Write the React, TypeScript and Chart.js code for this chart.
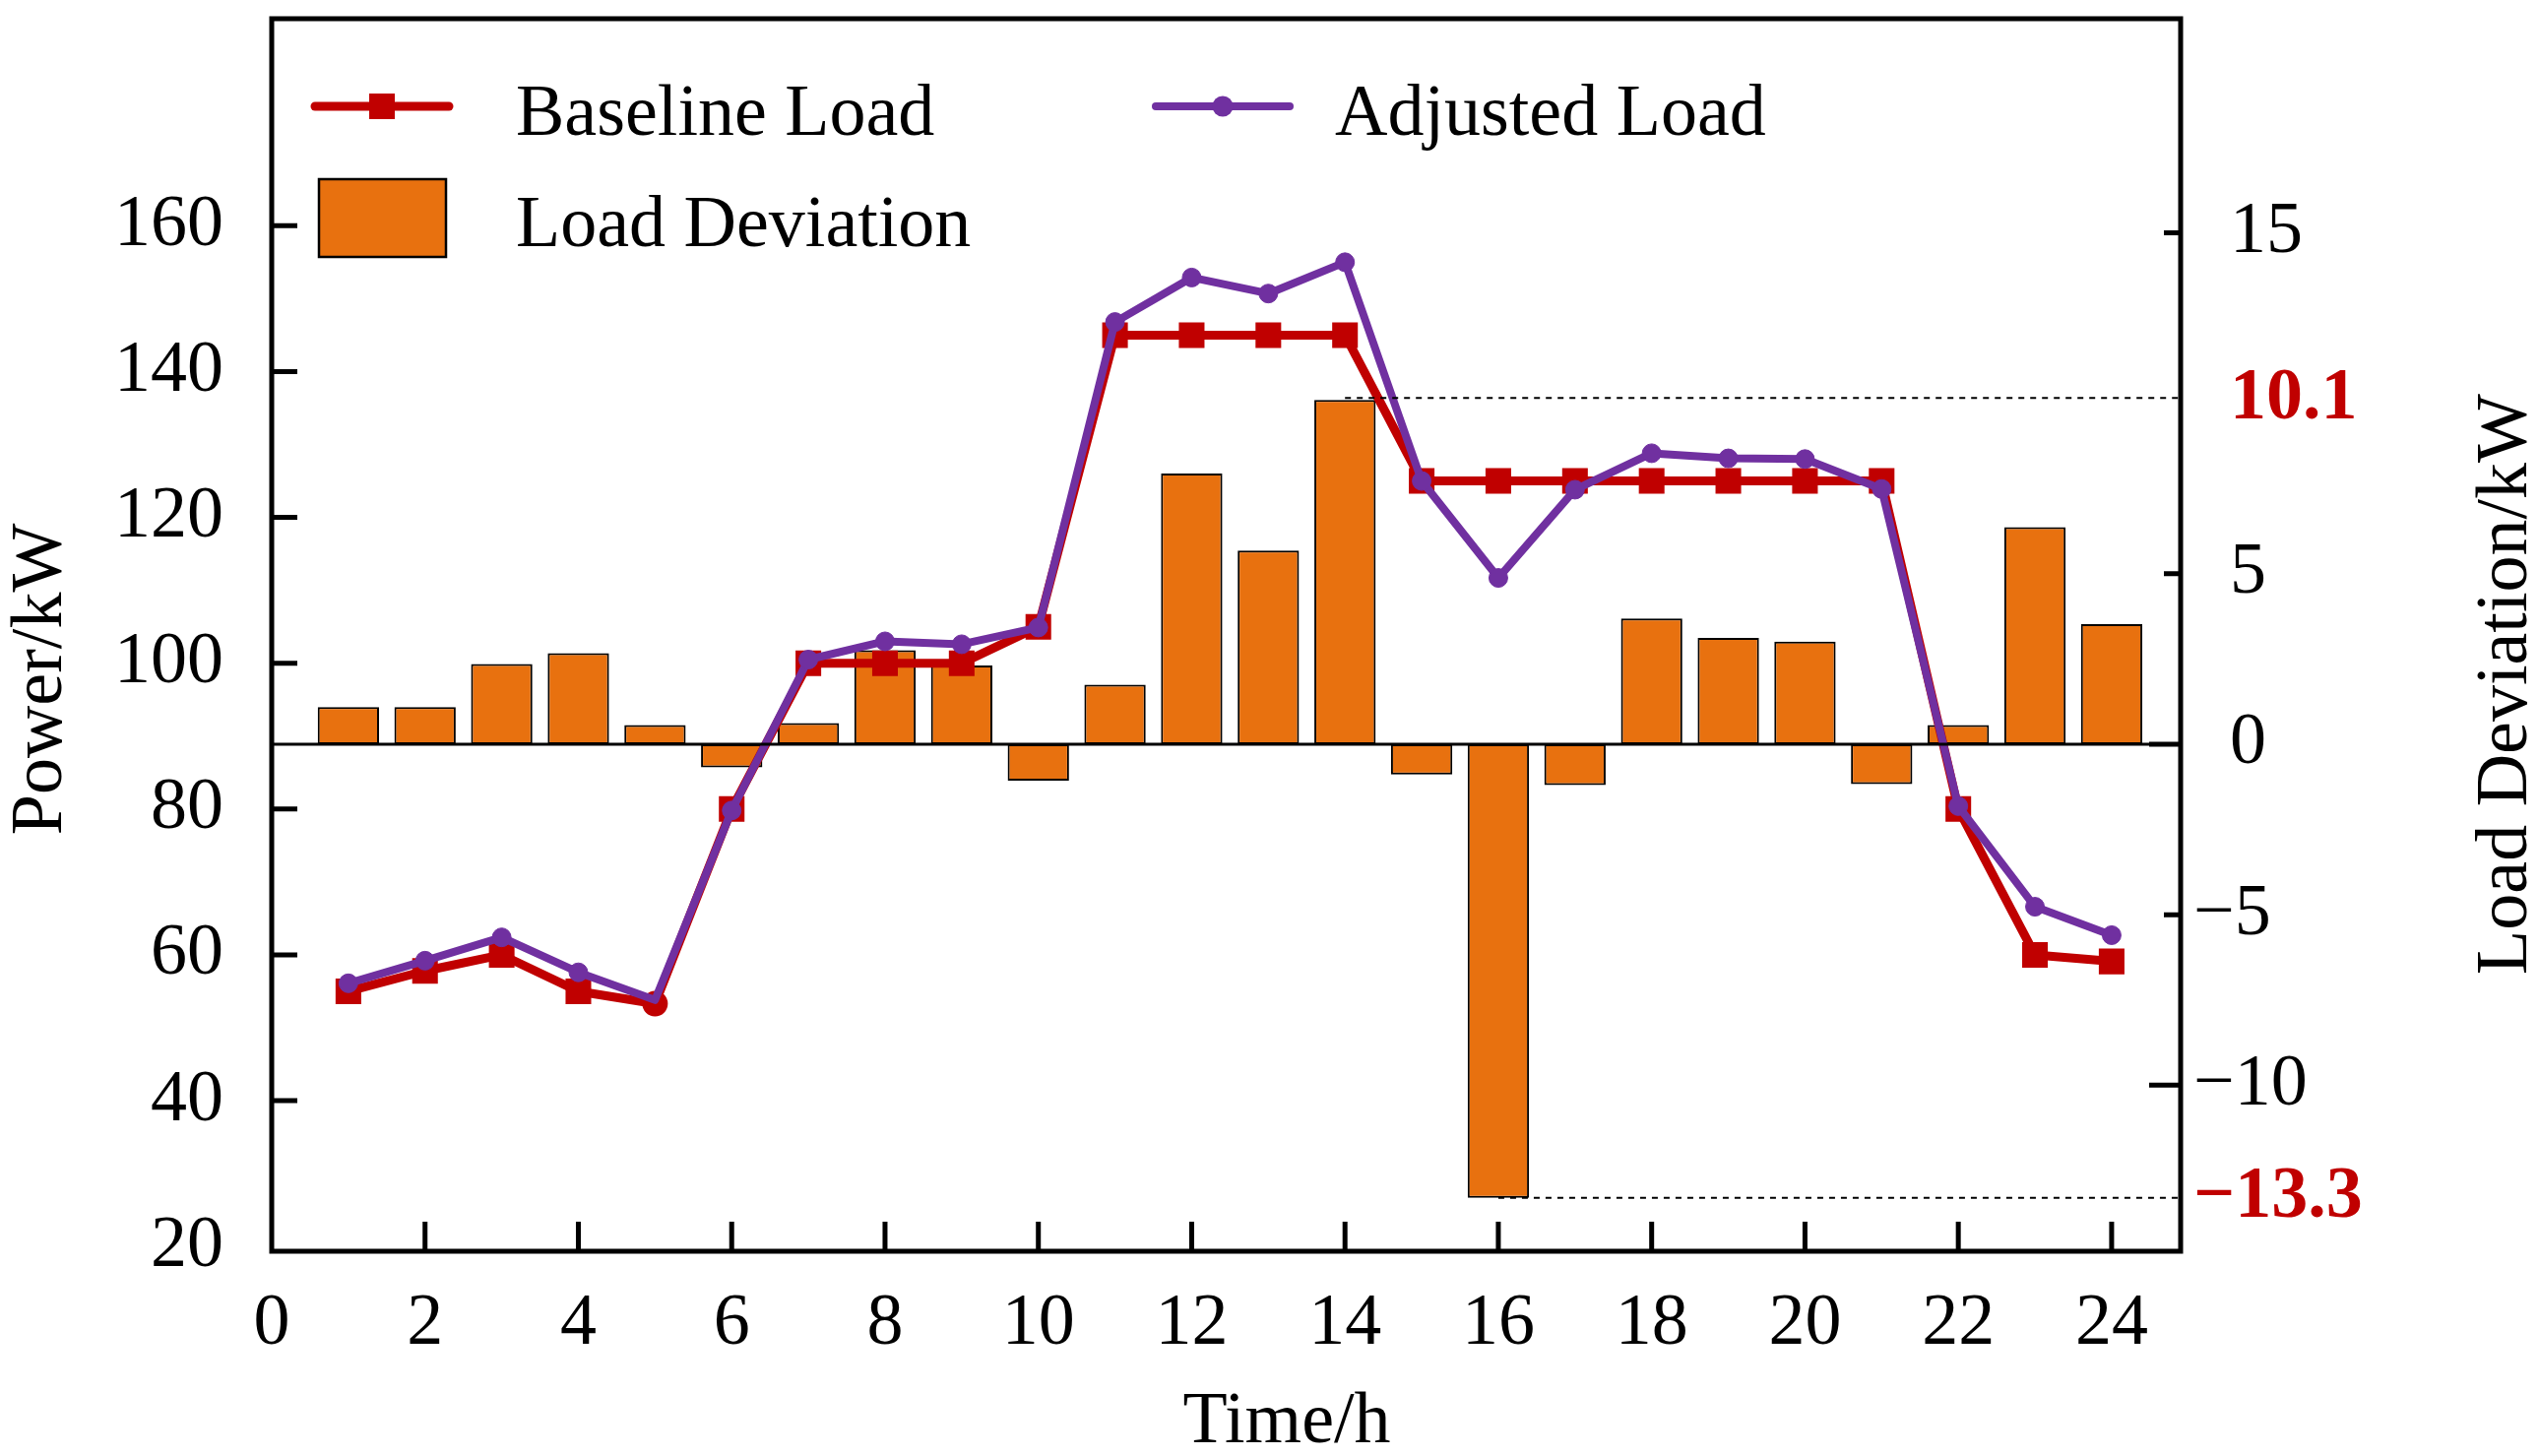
import { useEffect, useRef } from 'react'
import { Chart, registerables } from 'chart.js'

Chart.register(...registerables)

const FONT = '"Liberation Serif", "Times New Roman", serif'
const RED = '#C00000'
const PURPLE = '#7030A0'
const ORANGE = '#E8710F'

// hour of day
const hours = [1, 2, 3, 4, 5, 6, 7, 8, 9, 10, 11, 12, 13, 14, 15, 16, 17, 18, 19, 20, 21, 22, 23, 24]
// kW, left axis
const baselineLoad = [55, 57.8, 60, 55, 53.3, 80, 100, 100, 100, 105, 145, 145, 145, 145, 125, 125, 125, 125, 125, 125, 125, 80, 60, 59.1]
const adjustedLoad = [56.1, 59.2, 62.4, 57.6, 53.8, 79.8, 100.5, 103, 102.6, 104.9, 146.8, 152.9, 150.7, 155, 125, 111.7, 123.8, 128.8, 128.1, 128, 123.9, 80.4, 66.6, 62.7]
// kW, right axis
const loadDeviation = [1.09, 1.09, 2.35, 2.67, 0.56, -0.68, 0.62, 2.76, 2.31, -1.07, 1.75, 7.94, 5.68, 10.1, -0.89, -13.3, -1.2, 3.69, 3.12, 3.01, -1.17, 0.56, 6.37, 3.52]

const timeTicks = [0, 2, 4, 6, 8, 10, 12, 14, 16, 18, 20, 22, 24]
const powerTicks = [20, 40, 60, 80, 100, 120, 140, 160]
const deviationTicks = [15, 10.1, 5, 0, -5, -10, -13.3]
const markedDeviations = [10.1, -13.3]

const font = (size: number, weight = 'normal') => `${weight} ${size}px ${FONT}`

const overlayPlugin = {
  id: 'overlay',
  afterDatasetsDraw(chart: any) {
    const { ctx, chartArea: a, scales } = chart
    const x = scales.x
    const y1 = scales.y1
    ctx.save()
    // zero line of the deviation axis
    ctx.strokeStyle = '#000'
    ctx.lineWidth = 3
    const z = y1.getPixelForValue(0)
    ctx.beginPath()
    ctx.moveTo(a.left, z)
    ctx.lineTo(a.right, z)
    ctx.stroke()

    // dotted guides for max / min deviation
    const maxIdx = loadDeviation.indexOf(Math.max(...loadDeviation))
    const minIdx = loadDeviation.indexOf(Math.min(...loadDeviation))
    ctx.setLineDash([6, 6])
    ctx.lineWidth = 2
    for (const i of [maxIdx, minIdx]) {
      const yy = y1.getPixelForValue(loadDeviation[i]) + (loadDeviation[i] > 0 ? -2 : 0)
      ctx.beginPath()
      ctx.moveTo(x.getPixelForValue(hours[i]), yy)
      ctx.lineTo(a.right, yy)
      ctx.stroke()
    }
    ctx.restore()
  },
  afterDraw(chart: any) {
    const { ctx, chartArea: a, scales } = chart
    const { x, y, y1 } = scales
    ctx.save()
    ctx.strokeStyle = '#000'
    ctx.fillStyle = '#000'

    // frame
    ctx.lineWidth = 5
    ctx.strokeRect(a.left, a.top, a.right - a.left, a.bottom - a.top)

    // inner tick marks
    ctx.lineWidth = 5
    ctx.beginPath()
    timeTicks.filter(v => v > 0).forEach(v => {
      const px = x.getPixelForValue(v)
      ctx.moveTo(px, a.bottom)
      ctx.lineTo(px, a.bottom - 30)
    })
    powerTicks.forEach(v => {
      const py = y.getPixelForValue(v)
      if (a.bottom - py < 10) return
      ctx.moveTo(a.left, py)
      ctx.lineTo(a.left + 26, py)
    })
    deviationTicks.filter(v => !markedDeviations.includes(v)).forEach(v => {
      const py = y1.getPixelForValue(v)
      const len = v === 0 || v === -10 ? 32 : 17
      ctx.moveTo(a.right, py)
      ctx.lineTo(a.right - len, py)
    })
    ctx.stroke()

    // axis titles
    ctx.font = font(74)
    ctx.textBaseline = 'alphabetic'
    ctx.textAlign = 'center'
    ctx.fillText('Time/h', 1307, 1465)
    ctx.save()
    ctx.translate(62, 690)
    ctx.rotate(-Math.PI / 2)
    ctx.fillText('Power/kW', 0, 0)
    ctx.restore()
    ctx.save()
    ctx.translate(2566, 695)
    ctx.rotate(-Math.PI / 2)
    ctx.fillText('Load Deviation/kW', 0, 0)
    ctx.restore()

    // legend
    const ds = chart.data.datasets
    const baseline = ds.find((d: any) => d.label === 'Baseline Load')
    const adjusted = ds.find((d: any) => d.label === 'Adjusted Load')
    const deviation = ds.find((d: any) => d.label === 'Load Deviation')
    ctx.lineCap = 'round'

    ctx.strokeStyle = baseline.borderColor
    ctx.lineWidth = 9
    ctx.beginPath()
    ctx.moveTo(320, 108)
    ctx.lineTo(456, 108)
    ctx.stroke()
    ctx.fillStyle = baseline.borderColor
    ctx.fillRect(375, 95, 26, 26)

    ctx.strokeStyle = adjusted.borderColor
    ctx.lineWidth = 8
    ctx.beginPath()
    ctx.moveTo(1174, 108)
    ctx.lineTo(1310, 108)
    ctx.stroke()
    ctx.fillStyle = adjusted.borderColor
    ctx.beginPath()
    ctx.arc(1242, 108, 10.5, 0, Math.PI * 2)
    ctx.fill()

    ctx.fillStyle = deviation.backgroundColor
    ctx.fillRect(324, 182, 129, 79)
    ctx.strokeStyle = '#000'
    ctx.lineWidth = 2.5
    ctx.strokeRect(324, 182, 129, 79)

    ctx.fillStyle = '#000'
    ctx.textAlign = 'left'
    ctx.font = font(74)
    ctx.fillText(baseline.label, 524, 137)
    ctx.fillText(adjusted.label, 1356, 137)
    ctx.fillText(deviation.label, 524, 250)
    ctx.restore()
  }
}

export default function App() {
  const canvasRef = useRef<HTMLCanvasElement>(null)

  useEffect(() => {
    if (!canvasRef.current) return
    Chart.defaults.font.family = FONT

    const chart = new Chart(canvasRef.current, {
      type: 'bar',
      data: {
        datasets: [
          {
            type: 'line',
            label: 'Adjusted Load',
            data: hours.map((h, i) => ({ x: h, y: adjustedLoad[i] })),
            xAxisID: 'x',
            yAxisID: 'y',
            borderColor: PURPLE,
            backgroundColor: PURPLE,
            borderWidth: 8,
            borderJoinStyle: 'round',
            pointStyle: 'circle',
            pointRadius: hours.map((_, i) => (i === 4 ? 0 : 9.5)),
            pointBorderWidth: 1,
            tension: 0,
            order: 1
          },
          {
            type: 'line',
            label: 'Baseline Load',
            data: hours.map((h, i) => ({ x: h, y: baselineLoad[i] })),
            xAxisID: 'x',
            yAxisID: 'y',
            borderColor: RED,
            backgroundColor: RED,
            borderWidth: 9,
            borderJoinStyle: 'round',
            pointStyle: hours.map((_, i) => (i === 4 ? 'circle' : 'rect')),
            pointRadius: hours.map((_, i) => (i === 4 ? 12 : 17)),
            pointBorderWidth: 2,
            tension: 0,
            order: 2
          },
          {
            type: 'bar',
            label: 'Load Deviation',
            data: hours.map((h, i) => ({ x: h, y: loadDeviation[i] })),
            xAxisID: 'x',
            yAxisID: 'y1',
            backgroundColor: ORANGE,
            borderColor: '#000',
            borderWidth: 2,
            borderSkipped: false,
            barPercentage: 0.8,
            categoryPercentage: 1,
            order: 3
          }
        ] as any
      },
      options: {
        animation: false,
        responsive: true,
        maintainAspectRatio: false,
        layout: { padding: { top: 13, left: 0, right: 0, bottom: 0 } },
        plugins: {
          legend: { display: false },
          tooltip: { enabled: false }
        },
        scales: {
          x: {
            type: 'linear',
            position: 'bottom',
            offset: false,
            min: 0,
            max: 24.9,
            grid: { display: false, drawTicks: false, offset: false },
            border: { display: false },
            ticks: { padding: 30, color: '#000', font: { size: 74 }, autoSkip: false, maxRotation: 0 },
            afterBuildTicks: (s: any) => { s.ticks = timeTicks.map(v => ({ value: v })) },
            afterFit: (s: any) => { s.height = 208; s.paddingLeft = 0; s.paddingRight = 0 }
          },
          y: {
            type: 'linear',
            position: 'left',
            min: 19.35,
            max: 188.4,
            grid: { display: false, drawTicks: false },
            border: { display: false },
            ticks: { padding: 49, color: '#000', font: { size: 74 }, autoSkip: false },
            afterBuildTicks: (s: any) => { s.ticks = powerTicks.map(v => ({ value: v })) },
            afterFit: (s: any) => { s.width = 276; s.paddingTop = 0; s.paddingBottom = 0 }
          },
          y1: {
            type: 'linear',
            position: 'right',
            min: -14.87,
            max: 21.28,
            grid: { display: false, drawTicks: false },
            border: { display: false },
            ticks: {
              padding: 13,
              autoSkip: false,
              color: (c: any) => (c.tick && markedDeviations.includes(c.tick.value) ? RED : '#000'),
              font: (c: any) => ({
                size: 74,
                weight: c.tick && markedDeviations.includes(c.tick.value) ? 'bold' : 'normal'
              }),
              callback: (v: any) => (v < 0 ? '\u2212' + Math.abs(v) : '\u2002' + v)
            },
            afterBuildTicks: (s: any) => { s.ticks = deviationTicks.map(v => ({ value: v })) },
            afterFit: (s: any) => { s.width = 363; s.paddingTop = 0; s.paddingBottom = 0 }
          }
        }
      } as any,
      plugins: [overlayPlugin]
    })

    return () => chart.destroy()
  }, [])

  return (
    <div style={{ position: 'fixed', left: 0, top: 0, width: 2578, height: 1479, background: '#fff' }}>
      <canvas ref={canvasRef} />
    </div>
  )
}
